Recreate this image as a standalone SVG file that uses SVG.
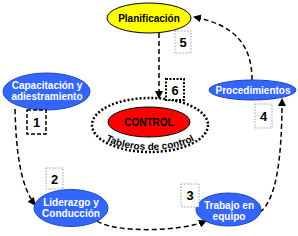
<svg xmlns="http://www.w3.org/2000/svg" width="298" height="236" viewBox="0 0 298 236">
<style>
.blue{fill:#3366FF;stroke:#2244bb;stroke-width:1}
.wt{font-family:"Liberation Sans",Arial,sans-serif;font-weight:bold;font-size:10px;fill:#fff;text-anchor:middle}
.bt{font-family:"Liberation Sans",Arial,sans-serif;font-weight:bold;font-size:10px;fill:#000;text-anchor:middle}
.num{font-family:"Liberation Sans",Arial,sans-serif;font-weight:bold;font-size:13px;fill:#000;text-anchor:middle}
.gbox{fill:#fff;stroke:#888;stroke-width:0.8;stroke-dasharray:1.5 1.5}
.conn{fill:none;stroke:#000;stroke-width:1.5;stroke-dasharray:5 3}
</style>
<defs>
<marker id="arr" markerWidth="8" markerHeight="8" refX="7" refY="4" orient="auto" markerUnits="userSpaceOnUse">
<path d="M0,0 L8,4 L0,8 Z" fill="#000"/>
</marker>
<path id="arc" d="M 95,127 A 55 23 0 0 0 205,127"/>
</defs>
<rect width="298" height="236" fill="#fff"/>
<g id="connectors">
<path class="conn" d="M 15,109 C 16,150 20,185 35,205" marker-end="url(#arr)"/>
<path class="conn" d="M 97,221 C 115,233 180,232 206,221" marker-end="url(#arr)"/>
<path class="conn" d="M 260,212 C 276,200 282,160 282,99" marker-end="url(#arr)"/>
<path class="conn" d="M 252,80 C 252,45 235,25 194,17" marker-end="url(#arr)"/>
<path class="conn" d="M 159,33 L 159,98" marker-end="url(#arr)"/>
</g>
<g id="control">
<ellipse cx="150" cy="125" rx="58" ry="27" fill="none" stroke="#000" stroke-width="2.5" stroke-dasharray="2 2"/>
<ellipse cx="149" cy="122" rx="41" ry="15" fill="#FF0000" stroke="#000" stroke-width="1"/>
<text class="bt" x="149" y="126">CONTROL</text>
<text class="bt" font-size="9.5"><textPath href="#arc" startOffset="50%">Tableros de control</textPath></text>
</g>
<g id="planificacion">
<ellipse cx="149" cy="18" rx="42" ry="15" fill="#FFFF00" stroke="#000" stroke-width="1"/>
<text class="bt" x="149" y="21.5">Planificación</text>
</g>
<g id="capacitacion">
<ellipse class="blue" cx="46.5" cy="91.5" rx="43.5" ry="18.5"/>
<text class="wt" x="47" y="89">Capacitación y</text>
<text class="wt" x="47" y="100">adiestramiento</text>
</g>
<g id="procedimientos">
<ellipse class="blue" cx="252.5" cy="90" rx="43.5" ry="10"/>
<text class="wt" x="253" y="93.5">Procedimientos</text>
</g>
<g id="liderazgo">
<ellipse class="blue" cx="71" cy="208" rx="37" ry="18.5"/>
<text class="wt" x="71" y="205.5">Liderazgo y</text>
<text class="wt" x="71" y="216.5">Conducción</text>
</g>
<g id="trabajo">
<ellipse class="blue" cx="228.5" cy="209.5" rx="32.5" ry="16.5"/>
<text class="wt" x="229" y="208.5">Trabajo en</text>
<text class="wt" x="229" y="219.5">equipo</text>
</g>
<g id="label1">
<rect x="27" y="110" width="19" height="24" fill="#fff" stroke="#000" stroke-width="1.5" stroke-dasharray="4 2"/>
<text class="num" x="36.5" y="127">1</text>
</g>
<g id="label2">
<rect class="gbox" x="46" y="168" width="17" height="21"/>
<text class="num" x="54.5" y="184">2</text>
</g>
<g id="label3">
<rect class="gbox" x="181" y="184" width="18" height="23"/>
<text class="num" x="190" y="200">3</text>
</g>
<g id="label4">
<rect class="gbox" x="255" y="104" width="17" height="24"/>
<text class="num" x="263.5" y="121">4</text>
</g>
<g id="label5">
<rect class="gbox" x="175" y="31" width="16" height="22"/>
<text class="num" x="183" y="47">5</text>
</g>
<g id="label6">
<rect x="166" y="79" width="18" height="21" fill="#fff" stroke="#000" stroke-width="2" stroke-dasharray="2 1.5"/>
<text class="num" x="175" y="95">6</text>
</g>
</svg>
